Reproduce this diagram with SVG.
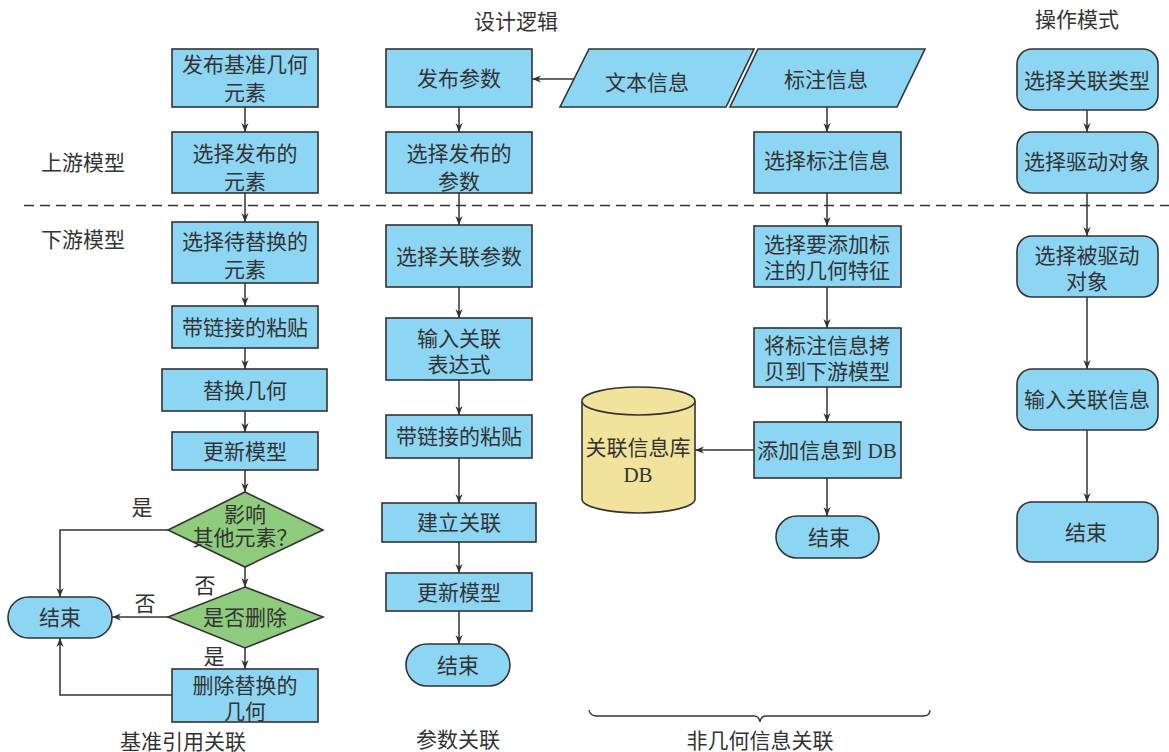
<svg xmlns="http://www.w3.org/2000/svg" width="1169" height="752" viewBox="0 0 1169 752">
<defs>
<style>
.box{fill:#8dd6f3;stroke:#333;stroke-width:1.6}
.dia{fill:#8fcb7c;stroke:#333;stroke-width:1.6}
.db{fill:#f2e39c;stroke:#333;stroke-width:1.6}
.t{font-family:"Liberation Serif","Noto Sans CJK SC",serif;font-size:21px;fill:#333;text-anchor:middle}
.lbl{font-family:"Liberation Serif","Noto Sans CJK SC",serif;font-size:21px;fill:#333;text-anchor:middle}
.c{fill:none;stroke:#333;stroke-width:1.5}
</style>
<marker id="ah" viewBox="0 0 10 10" refX="10" refY="5" markerWidth="9" markerHeight="9" markerUnits="userSpaceOnUse" orient="auto">
<path d="M0,1 L10,5 L0,9 L3,5 Z" fill="#333"/>
</marker>
</defs>
<rect width="1169" height="752" fill="#fff"/>

<!-- labels -->
<g id="labels">
<text class="lbl" x="516" y="29">设计逻辑</text>
<text class="lbl" x="1077" y="27">操作模式</text>
<text class="lbl" x="83" y="170">上游模型</text>
<text class="lbl" x="83" y="247">下游模型</text>
<text class="lbl" x="183" y="749">基准引用关联</text>
<text class="lbl" x="458" y="747">参数关联</text>
<text class="lbl" x="760" y="748">非几何信息关联</text>
<text class="lbl" x="142" y="515">是</text>
<text class="lbl" x="205" y="593">否</text>
<text class="lbl" x="145" y="611">否</text>
<text class="lbl" x="214" y="664">是</text>
</g>

<line x1="24" y1="205.5" x2="1169" y2="205.5" stroke="#333" stroke-width="1.3" stroke-dasharray="10,6"/>
<path d="M589,710 Q590,716 597,716 L754,716 Q759,716 760,722 Q761,716 766,716 L923,716 Q930,716 930,710" fill="none" stroke="#333" stroke-width="1.3"/>

<!-- connectors -->
<g id="connectors" class="c" marker-end="url(#ah)">
<path class="c" d="M245,107 V132" marker-end="url(#ah)"/>
<path class="c" d="M245,193 V222" marker-end="url(#ah)"/>
<path class="c" d="M245,283 V306" marker-end="url(#ah)"/>
<path class="c" d="M245,348 V369" marker-end="url(#ah)"/>
<path class="c" d="M245,411 V432" marker-end="url(#ah)"/>
<path class="c" d="M245,470 V492" marker-end="url(#ah)"/>
<path class="c" d="M245,567 V587" marker-end="url(#ah)"/>
<path class="c" d="M245,648 V669" marker-end="url(#ah)"/>
<path class="c" d="M168,530 H60 V597" marker-end="url(#ah)"/>
<path class="c" d="M168,617 H112" marker-end="url(#ah)"/>
<path class="c" d="M172,695 H60 V638" marker-end="url(#ah)"/>

<path class="c" d="M459,107 V132" marker-end="url(#ah)"/>
<path class="c" d="M459,193 V225" marker-end="url(#ah)"/>
<path class="c" d="M459,287 V318" marker-end="url(#ah)"/>
<path class="c" d="M459,380 V415" marker-end="url(#ah)"/>
<path class="c" d="M459,458 V503" marker-end="url(#ah)"/>
<path class="c" d="M459,542 V573" marker-end="url(#ah)"/>
<path class="c" d="M459,611 V644" marker-end="url(#ah)"/>
<path class="c" d="M575,79 H532" marker-end="url(#ah)"/>

<path class="c" d="M827,107 V132" marker-end="url(#ah)"/>
<path class="c" d="M827,193 V226" marker-end="url(#ah)"/>
<path class="c" d="M827,287 V328" marker-end="url(#ah)"/>
<path class="c" d="M827,387 V422" marker-end="url(#ah)"/>
<path class="c" d="M827,478 V516" marker-end="url(#ah)"/>
<path class="c" d="M754,450 H695" marker-end="url(#ah)"/>

<path class="c" d="M1087,110 V132" marker-end="url(#ah)"/>
<path class="c" d="M1087,193 V236" marker-end="url(#ah)"/>
<path class="c" d="M1087,297 V369" marker-end="url(#ah)"/>
<path class="c" d="M1087,430 V502" marker-end="url(#ah)"/>
</g>

<!-- column 1 -->
<g id="n_fabu_jizhun"><rect class="box" x="172" y="49" width="146" height="58"/><text class="t" x="245" y="72">发布基准几何</text><text class="t" x="245" y="100">元素</text></g>
<g id="n_xuanze_fabu_yuansu"><rect class="box" x="172" y="132" width="146" height="61"/><text class="t" x="245" y="161">选择发布的</text><text class="t" x="245" y="189">元素</text></g>
<g id="n_daitihuan"><rect class="box" x="172" y="222" width="146" height="61"/><text class="t" x="245" y="249">选择待替换的</text><text class="t" x="245" y="277">元素</text></g>
<g id="n_zhantie1"><rect class="box" x="172" y="306" width="146" height="42"/><text class="t" x="245" y="335">带链接的粘贴</text></g>
<g id="n_tihuan"><rect class="box" x="162" y="369" width="165" height="42"/><text class="t" x="245" y="398">替换几何</text></g>
<g id="n_gengxin1"><rect class="box" x="172" y="432" width="146" height="38"/><text class="t" x="245" y="459">更新模型</text></g>
<g id="n_yingxiang"><polygon class="dia" points="245,492 323,530 245,567 168,530"/><text class="t" x="245" y="522">影响</text><text class="t" x="245" y="545">其他元素？</text></g>
<g id="n_shifou"><polygon class="dia" points="245,587 323,617 245,648 168,617"/><text class="t" x="245" y="625">是否删除</text></g>
<g id="n_shanchu"><rect class="box" x="172" y="669" width="146" height="53"/><text class="t" x="245" y="693">删除替换的</text><text class="t" x="245" y="719">几何</text></g>
<g id="n_end1"><rect class="box" x="8" y="597" width="104" height="41" rx="20.5"/><text class="t" x="60" y="625">结束</text></g>

<!-- column 2 -->
<g id="n_fabu_canshu"><rect class="box" x="386" y="49" width="146" height="58"/><text class="t" x="459" y="86">发布参数</text></g>
<g id="n_xuanze_fabu_canshu"><rect class="box" x="386" y="132" width="146" height="61"/><text class="t" x="459" y="161">选择发布的</text><text class="t" x="459" y="189">参数</text></g>
<g id="n_guanlian_canshu"><rect class="box" x="386" y="225" width="146" height="62"/><text class="t" x="459" y="264">选择关联参数</text></g>
<g id="n_biaodashi"><rect class="box" x="386" y="318" width="146" height="62"/><text class="t" x="459" y="346">输入关联</text><text class="t" x="459" y="372">表达式</text></g>
<g id="n_zhantie2"><rect class="box" x="386" y="415" width="146" height="43"/><text class="t" x="459" y="444">带链接的粘贴</text></g>
<g id="n_jianli"><rect class="box" x="382" y="503" width="154" height="39"/><text class="t" x="459" y="530">建立关联</text></g>
<g id="n_gengxin2"><rect class="box" x="386" y="573" width="146" height="38"/><text class="t" x="459" y="600">更新模型</text></g>
<g id="n_end2"><rect class="box" x="406" y="644" width="104" height="42" rx="21"/><text class="t" x="458" y="673">结束</text></g>

<!-- column 3 -->
<g id="n_wenben"><polygon class="box" points="589,49 754,49 726,107 560,107"/><text class="t" x="647" y="90">文本信息</text></g>
<g id="n_biaozhu"><polygon class="box" points="758,49 925,49 897,107 730,107"/><text class="t" x="826" y="87">标注信息</text></g>
<g id="n_xuanze_biaozhu"><rect class="box" x="754" y="132" width="147" height="61"/><text class="t" x="827" y="168">选择标注信息</text></g>
<g id="n_tezheng"><rect class="box" x="754" y="226" width="147" height="61"/><text class="t" x="827" y="252">选择要添加标</text><text class="t" x="827" y="278">注的几何特征</text></g>
<g id="n_kaobei"><rect class="box" x="754" y="328" width="147" height="59"/><text class="t" x="827" y="353">将标注信息拷</text><text class="t" x="827" y="379">贝到下游模型</text></g>
<g id="n_tianjia"><rect class="box" x="754" y="422" width="147" height="56"/><text class="t" x="827" y="458">添加信息到 DB</text></g>
<g id="n_end3"><rect class="box" x="776" y="516" width="103" height="42" rx="21"/><text class="t" x="829" y="545">结束</text></g>
<g id="n_db"><path class="db" d="M582,401 A56.5,14 0 0 1 695,401 V499 A56.5,14 0 0 1 582,499 Z"/><path class="db" d="M582,401 A56.5,14 0 0 0 695,401" fill="none"/><text class="t" x="638" y="455">关联信息库</text><text class="t" x="638" y="482">DB</text></g>

<!-- column 4 -->
<g id="n_leixing"><rect class="box" x="1017" y="49" width="141" height="61" rx="15"/><text class="t" x="1087" y="88">选择关联类型</text></g>
<g id="n_qudong"><rect class="box" x="1017" y="132" width="141" height="61" rx="15"/><text class="t" x="1087" y="169">选择驱动对象</text></g>
<g id="n_beiqudong"><rect class="box" x="1017" y="236" width="141" height="61" rx="15"/><text class="t" x="1087" y="263">选择被驱动</text><text class="t" x="1087" y="289">对象</text></g>
<g id="n_shuru"><rect class="box" x="1017" y="369" width="141" height="61" rx="15"/><text class="t" x="1087" y="407">输入关联信息</text></g>
<g id="n_end4"><rect class="box" x="1017" y="502" width="141" height="60" rx="15"/><text class="t" x="1086" y="540">结束</text></g>
</svg>
